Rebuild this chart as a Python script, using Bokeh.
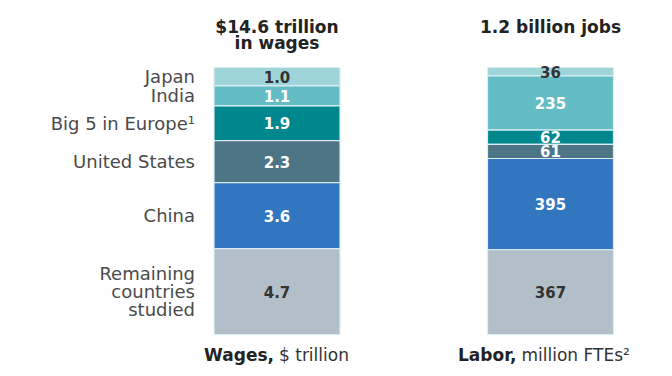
from bokeh.plotting import figure
from bokeh.models import Range1d, ColumnDataSource, Label
from bokeh.embed import file_html
from bokeh.resources import INLINE
from bokeh.core.properties import value

# ---- data (top to bottom as drawn) ----
countries = ["Japan", "India", "Big 5 in Europe¹", "United States", "China",
             "Remaining\ncountries\nstudied"]
wages = [1.0, 1.1, 1.9, 2.3, 3.6, 4.7]          # $ trillion
labor = [36, 235, 62, 61, 395, 367]             # million FTEs
colors = ["#9fd5d8", "#64bcc4", "#00878e", "#4d7586", "#3276c0", "#b2bfc9"]
dark_text = [True, False, False, False, False, True]
title_wages = ["$14.6 trillion", "in wages"]
title_labor = "1.2 billion jobs"
cap_wages = ("Wages,", "$ trillion")
cap_labor = ("Labor,", "million FTEs²")

W, H = 664, 368
FONT = "DejaVu Sans"

# layout in pixels
px_per_x = 273.5
bar_w = 126 / px_per_x
x0 = 1 - 276.5 / px_per_x
bottom_px, top_px = H - 334, H - 67     # from bottom of canvas
wt = sum(wages)
lt = sum(labor)
wscale = (top_px - bottom_px) / wt
lscale = (top_px - bottom_px) / lt

p = figure(width=W, height=H, output_backend="svg", toolbar_location=None,
           min_border=0, outline_line_color=None,
           x_range=Range1d(x0, x0 + W / px_per_x),
           y_range=Range1d(-bottom_px / wscale, (H - bottom_px) / wscale))
p.extra_y_ranges = {"labor": Range1d(-bottom_px / lscale, (H - bottom_px) / lscale)}
p.axis.visible = False
p.grid.visible = False
p.background_fill_color = "white"
p.border_fill_color = "white"

def stack(vals):
    tops, bots = [], []
    acc = 0.0
    for v in reversed(vals):
        bots.append(acc)
        acc += v
        tops.append(acc)
    return list(reversed(tops)), list(reversed(bots))

wtop, wbot = stack(wages)
ltop, lbot = stack(labor)

txt_col = ["#333333" if d else "white" for d in dark_text]

wsrc = ColumnDataSource(dict(
    x=[1] * len(wages), top=wtop, bottom=wbot, color=colors,
    mid=[(a + b) / 2 for a, b in zip(wtop, wbot)],
    lab=[f"{v:.1f}" for v in wages], tc=txt_col, country=countries))
lsrc = ColumnDataSource(dict(
    x=[2] * len(labor), top=ltop, bottom=lbot, color=colors,
    mid=[(a + b) / 2 for a, b in zip(ltop, lbot)],
    lab=[str(v) for v in labor], tc=txt_col))

p.vbar(x="x", width=bar_w, top="top", bottom="bottom", fill_color="color",
       line_color="#dbeef4", line_width=1.2, source=wsrc)
p.vbar(x="x", width=bar_w, top="top", bottom="bottom", fill_color="color",
       line_color="#dbeef4", line_width=1.2, source=lsrc, y_range_name="labor")

p.text(x="x", y="mid", text="lab", text_color="tc", source=wsrc,
       text_align="center", text_baseline="middle", text_font=value(FONT),
       text_font_size="15px", text_font_style="bold")
p.text(x="x", y="mid", text="lab", text_color="tc", source=lsrc,
       y_range_name="labor",
       text_align="center", text_baseline="middle", text_font=value(FONT),
       text_font_size="15px", text_font_style="bold")

# country labels
p.text(x=1 - bar_w / 2 - 19 / px_per_x, y="mid", text="country", source=wsrc,
       text_align="right", text_baseline="middle", text_font=value(FONT),
       text_font_size="18px", text_color="#4a4a4a", text_line_height=0.88)

# titles
for i, t in enumerate(title_wages):
    p.add_layout(Label(x=1, y=H - 26 - 16 * i, y_units="screen", text=t,
                       text_align="center", text_baseline="middle",
                       text_font=FONT, text_font_size="17px",
                       text_font_style="bold", text_color="#222222"))
p.add_layout(Label(x=2, y=H - 26, y_units="screen", text=title_labor,
                   text_align="center", text_baseline="middle",
                   text_font=FONT, text_font_size="17px",
                   text_font_style="bold", text_color="#222222"))

# bottom captions
for xc, shift, (b, r) in [(1, -3, cap_wages), (2, -34, cap_labor)]:
    xs = xc + shift / px_per_x
    p.add_layout(Label(x=xs, y=H - 354, y_units="screen", text=b,
                       text_align="right", text_baseline="middle",
                       text_font=FONT, text_font_size="17px",
                       text_font_style="bold", text_color="#222222"))
    p.add_layout(Label(x=xs, y=H - 354, y_units="screen", text=r,
                       x_offset=5,
                       text_align="left", text_baseline="middle",
                       text_font=FONT, text_font_size="17px",
                       text_color="#333333"))

open("out.html", "w").write(file_html(p, INLINE))
